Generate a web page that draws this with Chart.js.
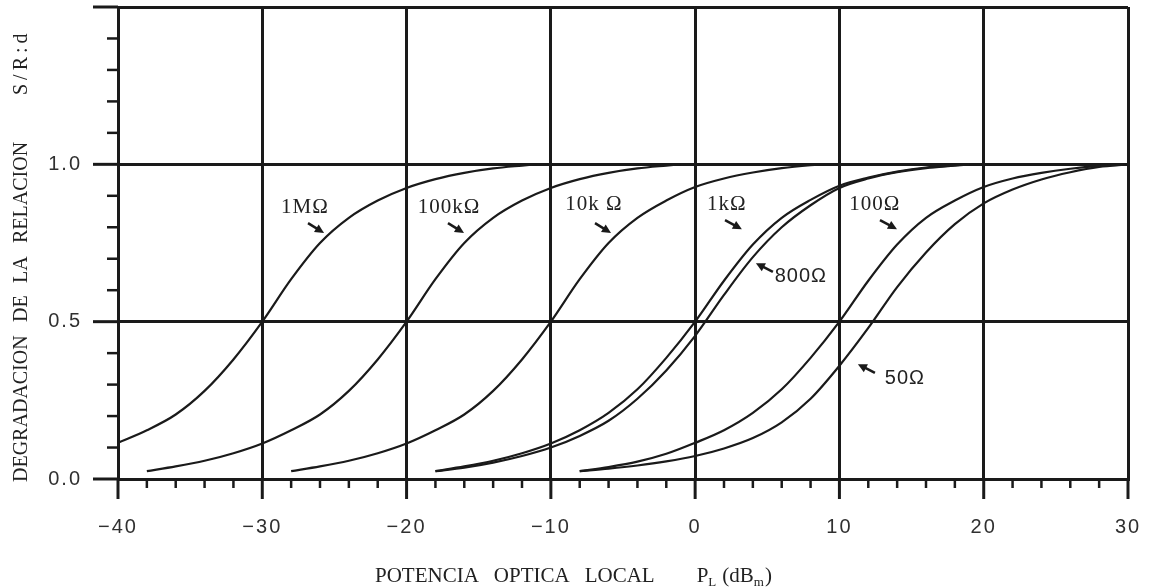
<!DOCTYPE html>
<html>
<head>
<meta charset="utf-8">
<script src="https://cdn.jsdelivr.net/npm/chart.js@4.4.0/dist/chart.umd.min.js"></script>
<style>
html,body{margin:0;padding:0;background:#fff;}
canvas{display:block;}
</style>
</head>
<body>
<canvas id="c" width="1153" height="588"></canvas>
<script>
// ---------- data ----------
const SERIES_NAMES = ['1MΩ', '100kΩ', '10kΩ', '1kΩ', '800Ω', '100Ω', '50Ω'];

const X_1M   = [-40, -38, -36, -34, -32, -30, -28, -26, -24, -22, -20, -18, -16, -14, -12, -11];
const Y_1M   = [0.115, 0.155, 0.205, 0.28, 0.38, 0.5, 0.635, 0.75, 0.83, 0.885, 0.925, 0.953, 0.973, 0.987, 0.996, 1.0];

const X_100K = [-38, -36, -34, -32, -30, -28, -26, -24, -22, -20, -18, -16, -14, -12, -10, -8, -6, -4, -2, -1];
const Y_100K = [0.025, 0.04, 0.058, 0.082, 0.113, 0.155, 0.205, 0.28, 0.38, 0.5, 0.635, 0.75, 0.83, 0.885, 0.925, 0.953, 0.973, 0.987, 0.996, 1.0];

const X_10K  = [-28, -26, -24, -22, -20, -18, -16, -14, -12, -10, -8, -6, -4, -2, 0, 2, 4, 6, 8, 9];
const Y_10K  = [0.025, 0.04, 0.058, 0.082, 0.113, 0.155, 0.205, 0.28, 0.38, 0.5, 0.635, 0.75, 0.83, 0.885, 0.928, 0.955, 0.974, 0.988, 0.997, 1.0];

const X_1K   = [-18, -16, -14, -12, -10, -8, -6, -4, -2, 0, 2, 4, 6, 8, 10, 12, 14, 16, 18, 19];
const Y_1K   = [0.025, 0.04, 0.058, 0.082, 0.113, 0.155, 0.21, 0.285, 0.385, 0.5, 0.63, 0.745, 0.83, 0.887, 0.932, 0.958, 0.977, 0.99, 0.997, 1.0];

const X_800  = [-18, -16, -14, -12, -10, -8, -6, -4, -2, 0, 2, 4, 6, 8, 10, 12, 14, 16, 18, 19];
const Y_800  = [0.025, 0.036, 0.052, 0.073, 0.1, 0.137, 0.185, 0.255, 0.345, 0.455, 0.585, 0.705, 0.8, 0.87, 0.925, 0.955, 0.975, 0.988, 0.996, 1.0];

const X_100  = [-8, -6, -4, -2, 0, 2, 4, 6, 8, 10, 12, 14, 16, 18, 20, 22, 24, 26, 28, 30];
const Y_100  = [0.025, 0.038, 0.055, 0.08, 0.115, 0.155, 0.21, 0.285, 0.385, 0.5, 0.63, 0.745, 0.83, 0.885, 0.928, 0.955, 0.973, 0.986, 0.995, 1.0];

const X_50   = [-8, -6, -4, -2, 0, 2, 4, 6, 8, 10, 12, 14, 16, 18, 20, 22, 24, 26, 28, 30];
const Y_50   = [0.025, 0.033, 0.043, 0.056, 0.073, 0.097, 0.13, 0.18, 0.255, 0.36, 0.48, 0.61, 0.72, 0.81, 0.876, 0.92, 0.952, 0.975, 0.992, 1.0];

const X_MAJOR = [-40, -30, -20, -10, 0, 10, 20, 30];
const X_TICK_LABELS = ['\u221240', '\u221230', '\u221220', '\u221210', '0', '10', '20', '30'];
const Y_MAJOR = [0, 0.5, 1.0];
const Y_TICK_LABELS = ['0.0', '0.5', '1.0'];

const X_TITLE = ['POTENCIA', 'OPTICA', 'LOCAL', 'P', 'L', '(dB', 'm', ')'];
const Y_TITLE = ['DEGRADACION', 'DE', 'LA', 'RELACION', 'S/R:d'];

const CURVE_LABELS = ['1MΩ', '100kΩ', '10k Ω', '1kΩ', '800Ω', '100Ω', '50Ω'];

// ---------- placement / style (not data) ----------
const LINE = '#1a1a1a';
const TEXT = '#303030';
// label anchor [x, y], arrow tail [x, y], arrow head [x, y] in data units, serif flag
const LABEL_PLACE = [
  {at: [-27.04, 0.864], tail: [-26.83, 0.813], head: [-25.72, 0.782], serif: true},
  {at: [-17.06, 0.864], tail: [-17.13, 0.813], head: [-16.02, 0.782], serif: true},
  {at: [-7.01, 0.871],  tail: [-6.94, 0.813],  head: [-5.83, 0.782],  serif: true},
  {at: [2.20, 0.871],   tail: [2.07, 0.823],   head: [3.24, 0.794],   serif: true},
  {at: [7.33, 0.645],   tail: [5.39, 0.658],   head: [4.21, 0.686],   serif: false},
  {at: [12.46, 0.871],  tail: [12.81, 0.823],  head: [13.99, 0.794],  serif: true},
  {at: [14.54, 0.321],  tail: [12.46, 0.337],  head: [11.28, 0.365],  serif: false}
];

const SERIES = [
  [X_1M, Y_1M], [X_100K, Y_100K], [X_10K, Y_10K], [X_1K, Y_1K],
  [X_800, Y_800], [X_100, Y_100], [X_50, Y_50]
];

const toPts = (xs, ys) => xs.map((x, i) => ({x: x, y: ys[i]}));
const isMajorX = v => X_MAJOR.some(m => Math.abs(m - v) < 1e-6);
const isMajorY = v => Math.abs(v * 2 - Math.round(v * 2)) < 1e-6;
const noPad = s => { s.paddingLeft = 0; s.paddingRight = 0; s.paddingTop = 0; s.paddingBottom = 0; };

const tickMarks = {
  id: 'tickMarks',
  beforeDraw(chart) { chart.ctx.letterSpacing = '2px'; },
  afterDraw(chart) {
    const ctx = chart.ctx, xs = chart.scales.x, ys = chart.scales.y, a = chart.chartArea;
    ctx.save();
    ctx.letterSpacing = '0px';
    ctx.strokeStyle = LINE;
    ctx.lineCap = 'butt';
    xs.ticks.forEach(t => {
      const px = xs.getPixelForValue(t.value);
      const major = isMajorX(t.value);
      ctx.lineWidth = major ? 3 : 2.5;
      ctx.beginPath();
      ctx.moveTo(px, a.bottom);
      ctx.lineTo(px, a.bottom + (major ? 20 : 9));
      ctx.stroke();
    });
    ys.ticks.forEach(t => {
      const py = ys.getPixelForValue(t.value);
      const major = isMajorY(t.value);
      ctx.lineWidth = major ? 3 : 2.5;
      ctx.beginPath();
      ctx.moveTo(a.left - (major ? 25 : 11), py);
      ctx.lineTo(a.left, py);
      ctx.stroke();
    });

    // x axis title with subscripts
    ctx.fillStyle = '#222';
    ctx.textBaseline = 'alphabetic';
    ctx.textAlign = 'left';
    const xSeg = [
      [0, 21, 0, 15], [1, 21, 0, 15], [2, 21, 0, 42], [3, 21, 0, 0],
      [4, 13, 4, 6], [5, 21, 0, 0], [6, 13, 4, 1], [7, 21, 0, 0]
    ];
    let x = 375;
    xSeg.forEach(s => {
      ctx.font = s[1] + 'px "Liberation Serif"';
      ctx.fillText(X_TITLE[s[0]], x, 582 + s[2]);
      x += ctx.measureText(X_TITLE[s[0]]).width + s[3];
    });

    // y axis title (rotated), words placed along the axis
    ctx.save();
    ctx.translate(27, 482);
    ctx.rotate(-Math.PI / 2);
    ctx.font = '20px "Liberation Serif"';
    const yStart = [0, 160, 199, 239, 387];
    const ySpace = ['0px', '0px', '0px', '0px', '4px'];
    Y_TITLE.forEach((w, i) => {
      ctx.letterSpacing = ySpace[i];
      ctx.fillText(w, yStart[i], 0);
    });
    ctx.letterSpacing = '0px';
    ctx.restore();

    // curve labels and arrows
    CURVE_LABELS.forEach((txt, i) => {
      const p = LABEL_PLACE[i];
      ctx.font = p.serif ? '21px "Liberation Serif"' : '20px "Liberation Sans"';
      ctx.letterSpacing = '1px';
      ctx.textAlign = 'center';
      ctx.textBaseline = 'middle';
      ctx.fillStyle = '#222';
      ctx.fillText(txt, xs.getPixelForValue(p.at[0]), ys.getPixelForValue(p.at[1]));
      const tx = xs.getPixelForValue(p.tail[0]), ty = ys.getPixelForValue(p.tail[1]);
      const hx = xs.getPixelForValue(p.head[0]), hy = ys.getPixelForValue(p.head[1]);
      const ang = Math.atan2(hy - ty, hx - tx);
      ctx.strokeStyle = LINE;
      ctx.lineWidth = 2.5;
      ctx.beginPath();
      ctx.moveTo(tx, ty);
      ctx.lineTo(hx - 5 * Math.cos(ang), hy - 5 * Math.sin(ang));
      ctx.stroke();
      ctx.fillStyle = LINE;
      ctx.beginPath();
      ctx.moveTo(hx, hy);
      ctx.lineTo(hx - 9 * Math.cos(ang) + 4.5 * Math.sin(ang), hy - 9 * Math.sin(ang) - 4.5 * Math.cos(ang));
      ctx.lineTo(hx - 9 * Math.cos(ang) - 4.5 * Math.sin(ang), hy - 9 * Math.sin(ang) + 4.5 * Math.cos(ang));
      ctx.closePath();
      ctx.fill();
    });
    ctx.restore();
    ctx.letterSpacing = '0px';
  }
};

new Chart(document.getElementById('c'), {
  type: 'line',
  data: {
    datasets: SERIES.map((s, i) => ({
      label: SERIES_NAMES[i],
      data: toPts(s[0], s[1]),
      borderColor: LINE,
      borderWidth: 2.2,
      pointRadius: 0,
      fill: false,
      cubicInterpolationMode: 'monotone'
    }))
  },
  options: {
    responsive: false,
    animation: false,
    devicePixelRatio: 1,
    layout: {padding: {top: 7, right: 25, left: 0, bottom: 0}},
    plugins: {legend: {display: false}, tooltip: {enabled: false}, title: {display: false}},
    scales: {
      x: {
        type: 'linear', min: -40, max: 30,
        afterFit(s) { s.height = 109; noPad(s); },
        ticks: {
          stepSize: 2, autoSkip: false, maxRotation: 0, minRotation: 0, padding: 36,
          color: TEXT, font: {family: 'Liberation Sans', size: 20},
          callback: v => { const i = X_MAJOR.findIndex(m => Math.abs(m - v) < 1e-6); return i >= 0 ? X_TICK_LABELS[i] : ''; }
        },
        grid: {drawTicks: false, lineWidth: 3, color: c => (c.tick && isMajorX(c.tick.value)) ? LINE : 'rgba(0,0,0,0)'},
        border: {display: true, color: LINE, width: 3}
      },
      y: {
        type: 'linear', min: 0, max: 1.5,
        afterFit(s) { s.width = 118; noPad(s); },
        ticks: {
          stepSize: 0.1, autoSkip: false, padding: 36,
          color: TEXT, font: {family: 'Liberation Sans', size: 20},
          callback: v => { const i = Y_MAJOR.findIndex(m => Math.abs(m - v) < 1e-6); return i >= 0 ? Y_TICK_LABELS[i] : ''; }
        },
        grid: {drawTicks: false, lineWidth: 3, color: c => (c.tick && isMajorY(c.tick.value)) ? LINE : 'rgba(0,0,0,0)'},
        border: {display: true, color: LINE, width: 3}
      }
    }
  },
  plugins: [tickMarks]
});
</script>
</body>
</html>
